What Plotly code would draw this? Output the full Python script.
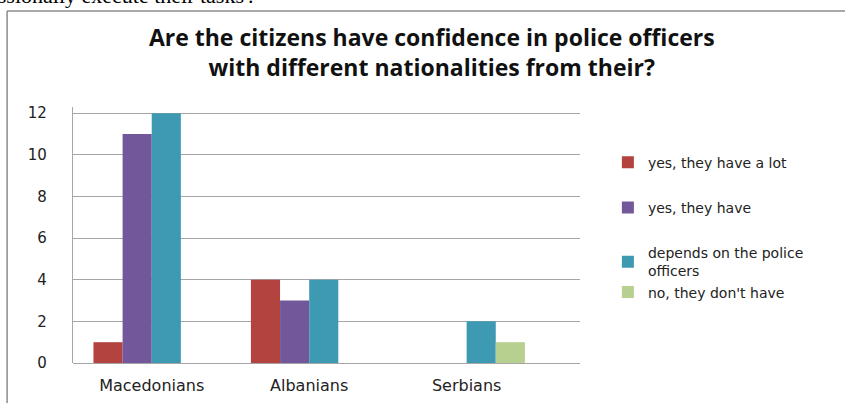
import plotly.graph_objects as go

categories = ["Macedonians", "Albanians", "Serbians"]
series_names = ["yes, they have a lot", "yes, they have",
                "depends on the police<br>officers", "no, they don't have"]
legend_groups = ["g1", "g2", "g3", "g3"]
values_lot = [1, 4, 0]
values_have = [11, 3, 0]
values_depends = [12, 4, 2]
values_no = [0, 0, 1]
y_ticks = [0, 2, 4, 6, 8, 10, 12]
colors = ["#B3433F", "#72589A", "#3E9AB3", "#B7CF8F"]

fig = go.Figure()
for name, vals, col, grp in zip(series_names,
                                [values_lot, values_have, values_depends, values_no],
                                colors, legend_groups):
    fig.add_trace(go.Bar(x=list(range(len(categories))), y=vals, name=name,
                         marker=dict(color=col, line=dict(width=0)),
                         legendgroup=grp))

fig.update_layout(
    width=845, height=403,
    margin=dict(l=73, r=265, t=107, b=40, autoexpand=False),
    paper_bgcolor="white", plot_bgcolor="white",
    barmode="group", bargap=0.26, bargroupgap=0,
    font=dict(family="DejaVu Sans", color="#222222"),
    title=dict(text="<b>Are the citizens have confidence in police officers<br>with different nationalities from their?</b>",
               x=0.511, xanchor="center", y=0.885, yanchor="top",
               font=dict(family="Open Sans", size=23, color="#111111")),
    xaxis=dict(tickvals=list(range(len(categories))), ticktext=categories,
               range=[-0.5, 2.72], showgrid=False, showline=False,
               ticks="", tickfont=dict(size=16, color="#222222"), zeroline=False,
               ticklabelstandoff=11),
    yaxis=dict(range=[0, 12.3], tickvals=y_ticks, showgrid=True,
               gridcolor="#A6A6A6", gridwidth=1.3, showline=True,
               linecolor="#A6A6A6", linewidth=1.3, zeroline=True,
               zerolinecolor="#A6A6A6", zerolinewidth=1.3,
               tickfont=dict(size=15, color="#222222"), ticks="", ticklabelstandoff=22),
    legend=dict(x=1.055, y=0.845, xanchor="left", yanchor="top",
                font=dict(family="DejaVu Sans", size=14, color="#222222"),
                tracegroupgap=24, itemwidth=30, bgcolor="rgba(0,0,0,0)"),
    showlegend=True,
)

# chart frame (left and top edges)
fig.add_shape(type="line", xref="paper", yref="paper",
              x0=-0.130, x1=-0.130, y0=-0.5, y1=1.375,
              line=dict(color="#8C8C8C", width=1.5))
fig.add_shape(type="line", xref="paper", yref="paper",
              x0=-0.130, x1=1.6, y0=1.375, y1=1.375,
              line=dict(color="#8C8C8C", width=1.5))
# clipped document text above chart
fig.add_annotation(text="essionally execute their tasks'.", xref="paper", yref="paper",
                   x=-0.172, y=1.434, xanchor="left", yanchor="middle", showarrow=False,
                   font=dict(family="Liberation Serif", size=22, color="#000000"))

fig.write_html("out.html", config={"displayModeBar": False},
               post_script="document.body.style.margin='0';")
